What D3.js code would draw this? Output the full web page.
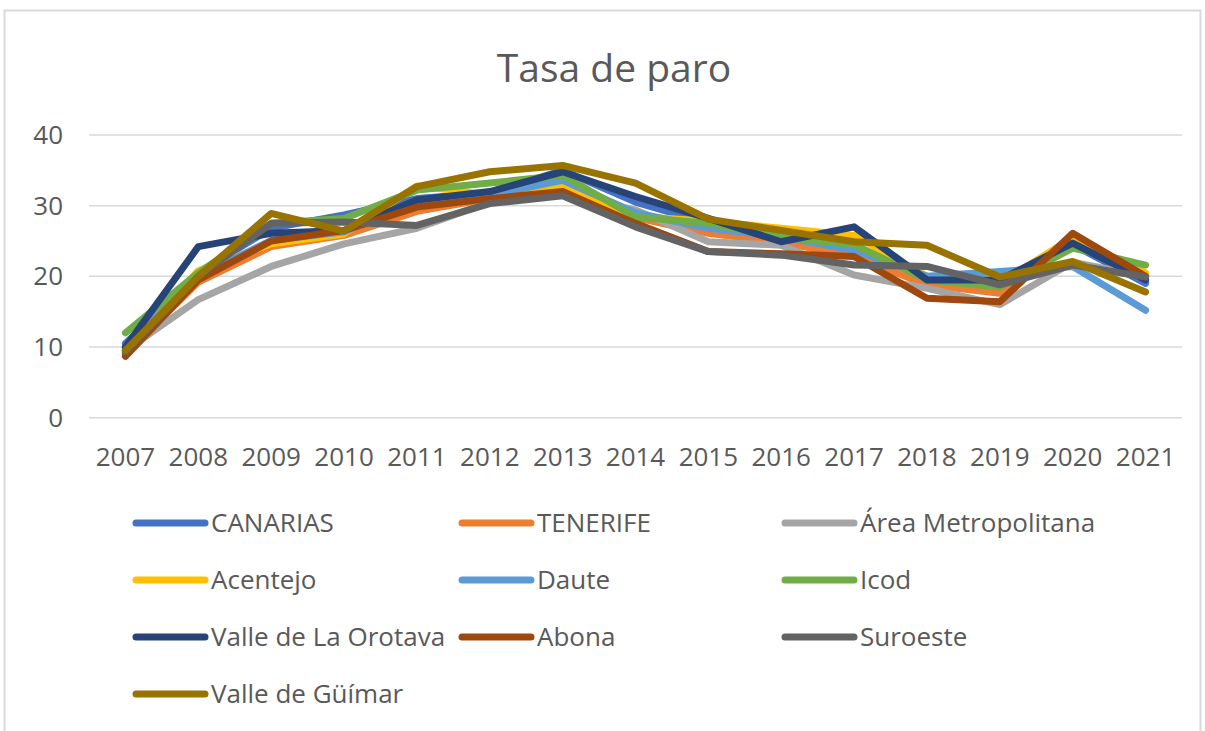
<!DOCTYPE html>
<html>
<head>
<meta charset="utf-8">
<script src="https://cdn.jsdelivr.net/npm/d3@7"></script>
<style>
  body { margin: 0; background: #fff; }
  text { font-family: "Open Sans", sans-serif; fill: #595959; }
</style>
</head>
<body>
<svg id="chart" width="1205" height="731"></svg>
<script>
// years on the x axis
const years = ["2007", "2008", "2009", "2010", "2011", "2012", "2013", "2014", "2015", "2016", "2017", "2018", "2019", "2020", "2021"];
const yTicks = [0, 10, 20, 30, 40];

// series names and colours (legend order = draw order)
const seriesNames = ["CANARIAS", "TENERIFE", "Área Metropolitana", "Acentejo", "Daute", "Icod",
  "Valle de La Orotava", "Abona", "Suroeste", "Valle de Güímar"];
const seriesColors = ["#4472c4", "#ed7d31", "#a5a5a5", "#ffc000", "#5b9bd5", "#70ad47",
  "#264478", "#9e480e", "#636363", "#997300"];

// values
const canarias  = [10.5, 20.5, 26.8, 28.7, 31.0, 31.8, 35.0, 30.5, 27.5, 25.5, 24.0, 20.0, 19.0, 24.5, 19.0];
const tenerife  = [9.0, 19.2, 24.2, 25.8, 29.2, 31.0, 32.5, 28.3, 26.1, 24.8, 22.8, 18.8, 17.6, 25.5, 20.0];
const areaMetro = [9.5, 16.7, 21.4, 24.6, 26.8, 30.5, 31.5, 29.4, 24.9, 24.4, 20.2, 18.3, 16.0, 22.0, 20.0];
const acentejo  = [9.5, 20.8, 24.6, 26.0, 32.8, 31.5, 32.9, 28.5, 27.8, 26.8, 25.8, 20.0, 19.0, 25.5, 20.5];
const daute     = [10.0, 20.0, 25.1, 26.3, 30.5, 31.5, 33.6, 29.0, 26.8, 25.6, 23.7, 20.0, 20.7, 21.4, 15.2];
const icod      = [12.0, 20.5, 27.5, 28.2, 32.2, 33.2, 34.3, 28.4, 27.5, 25.5, 24.5, 19.5, 18.5, 24.0, 21.6];
const orotava   = [10.0, 24.2, 26.1, 26.5, 30.8, 32.0, 34.8, 31.3, 28.2, 24.9, 27.0, 19.5, 19.5, 24.7, 19.5];
const abona     = [8.7, 19.5, 25.0, 26.5, 29.8, 31.0, 32.0, 27.5, 23.5, 23.2, 22.8, 16.9, 16.4, 26.1, 20.0];
const suroeste  = [9.3, 20.0, 27.5, 27.7, 27.2, 30.3, 31.4, 27.0, 23.5, 23.0, 21.6, 21.4, 18.8, 21.6, 19.9];
const guimar    = [9.5, 20.0, 28.9, 26.4, 32.7, 34.8, 35.7, 33.2, 28.1, 26.5, 24.9, 24.4, 19.9, 22.1, 17.8];

const seriesValues = [canarias, tenerife, areaMetro, acentejo, daute, icod, orotava, abona, suroeste, guimar];

const svg = d3.select("#chart");

// chart frame
svg.append("rect")
  .attr("x", 4.5).attr("y", 10.5)
  .attr("width", 1196).attr("height", 760)
  .attr("fill", "none")
  .attr("stroke", "#d9d9d9")
  .attr("stroke-width", 2);

// title
svg.append("text")
  .attr("x", 614).attr("y", 82)
  .attr("text-anchor", "middle")
  .style("font-size", "39px")
  .text("Tasa de paro");

const plotLeft = 89, plotRight = 1182;
const x = d3.scaleBand().domain(years).range([plotLeft, plotRight]);
const y = d3.scaleLinear().domain([0, 40]).range([417.7, 135]);

// gridlines
svg.append("g")
  .selectAll("line")
  .data(yTicks)
  .enter().append("line")
  .attr("x1", plotLeft).attr("x2", plotRight)
  .attr("y1", d => y(d)).attr("y2", d => y(d))
  .attr("stroke", "#d9d9d9")
  .attr("stroke-width", 1.5);

// y axis labels
const yAxis = svg.append("g")
  .attr("transform", `translate(${plotLeft - 26},0)`)
  .call(d3.axisLeft(y).tickValues(yTicks).tickSize(0).tickPadding(0));
yAxis.select(".domain").remove();
yAxis.selectAll("text").style("font-size", "26px").attr("fill", "#595959").style("font-family", "Open Sans");

// x axis labels
const xAxis = svg.append("g")
  .attr("transform", `translate(0,${y(0)})`)
  .call(d3.axisBottom(x).tickSize(0).tickPadding(30));
xAxis.select(".domain").remove();
xAxis.selectAll("text").style("font-size", "26px").attr("fill", "#595959").style("font-family", "Open Sans");

// the lines
const line = d3.line()
  .x((d, i) => x(years[i]) + x.bandwidth() / 2)
  .y(d => y(d));

svg.append("g")
  .selectAll("path")
  .data(seriesValues)
  .enter().append("path")
  .attr("d", d => line(d))
  .attr("fill", "none")
  .attr("stroke", (d, i) => seriesColors[i])
  .attr("stroke-width", 7)
  .attr("stroke-linejoin", "round")
  .attr("stroke-linecap", "round");

// legend, three columns
const colX = [136, 462, 785];
const rowY = [523, 580, 637, 694];
const legend = svg.append("g")
  .selectAll("g")
  .data(seriesNames)
  .enter().append("g")
  .attr("transform", (d, i) => `translate(${colX[i % 3]},${rowY[Math.floor(i / 3)]})`);

legend.append("line")
  .attr("x1", 0).attr("x2", 69)
  .attr("stroke", (d, i) => seriesColors[i])
  .attr("stroke-width", 7)
  .attr("stroke-linecap", "round");

legend.append("text")
  .attr("x", 75)
  .attr("dy", "0.36em")
  .style("font-size", "26px")
  .text(d => d);
</script>
</body>
</html>
